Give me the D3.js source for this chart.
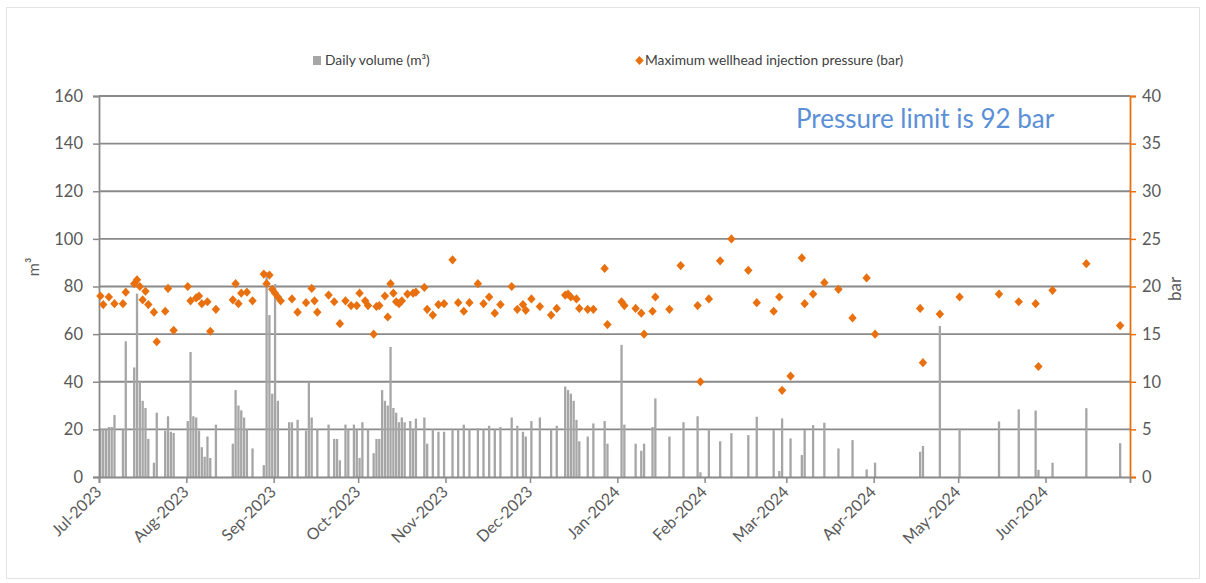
<!DOCTYPE html>
<html>
<head>
<meta charset="utf-8">
<script src="https://cdn.jsdelivr.net/npm/d3@7"></script>
<style>
  html, body { margin: 0; padding: 0; background: #fff; }
  svg { display: block; font-family: Lato, "Open Sans", sans-serif; }
</style>
</head>
<body>
<svg id="chart" width="1206" height="583"></svg>
<script>
// Daily injected volume (m³)
const volumeDates = [
  "2023-07-01","2023-07-02","2023-07-03","2023-07-04","2023-07-05","2023-07-06","2023-07-09","2023-07-10",
  "2023-07-13","2023-07-14","2023-07-15","2023-07-16","2023-07-17","2023-07-18","2023-07-20","2023-07-21",
  "2023-07-24","2023-07-25","2023-07-26","2023-07-27","2023-08-01","2023-08-02","2023-08-03","2023-08-04",
  "2023-08-05","2023-08-06","2023-08-07","2023-08-08","2023-08-09","2023-08-11","2023-08-17","2023-08-18",
  "2023-08-19","2023-08-20","2023-08-21","2023-08-22","2023-08-24","2023-08-28","2023-08-29","2023-08-30",
  "2023-08-31","2023-09-01","2023-09-02","2023-09-06","2023-09-07","2023-09-09","2023-09-12","2023-09-13",
  "2023-09-14","2023-09-16","2023-09-20","2023-09-22","2023-09-23","2023-09-24","2023-09-26","2023-09-27",
  "2023-09-29","2023-09-30","2023-10-01","2023-10-02","2023-10-04","2023-10-06","2023-10-07","2023-10-08",
  "2023-10-09","2023-10-10","2023-10-11","2023-10-12","2023-10-13","2023-10-14","2023-10-15","2023-10-16",
  "2023-10-17","2023-10-19","2023-10-20","2023-10-21","2023-10-24","2023-10-25","2023-10-27","2023-10-29",
  "2023-10-31","2023-11-03","2023-11-05","2023-11-07","2023-11-09","2023-11-12","2023-11-14","2023-11-16",
  "2023-11-18","2023-11-20","2023-11-24","2023-11-26","2023-11-28","2023-11-29","2023-12-01","2023-12-04",
  "2023-12-08","2023-12-10","2023-12-13","2023-12-14","2023-12-15","2023-12-16","2023-12-17","2023-12-18",
  "2023-12-21","2023-12-23","2023-12-27","2023-12-28","2024-01-02","2024-01-03","2024-01-07","2024-01-09",
  "2024-01-10","2024-01-13","2024-01-14","2024-01-19","2024-01-24","2024-01-29","2024-01-30","2024-02-02",
  "2024-02-06","2024-02-10","2024-02-16","2024-02-19","2024-02-25","2024-02-27","2024-02-28","2024-03-02",
  "2024-03-06","2024-03-07","2024-03-10","2024-03-14","2024-03-19","2024-03-24","2024-03-29","2024-04-01",
  "2024-04-17","2024-04-18","2024-04-24","2024-05-01","2024-05-15","2024-05-22","2024-05-28","2024-05-29",
  "2024-06-03","2024-06-15","2024-06-27"
];
const volumeValues = [
  20,20,20,21,21,26,20,57,
  46,77,40,32,29,16,6,27,
  19.5,25.5,19,18.5,23.5,52.5,25.5,25,
  19.5,12.5,8.5,17,8,22,14,36.5,
  30,28,25,20,12,5,86,68,
  35,81,32,23,23,24,19.5,40,
  25,20,22,16,16,7,22,20,
  22,20,8,23,20,10,16,16,
  36.5,32,30,54.6,29,27,23,25,
  23,23.5,20,24.5,25,14,20,19,
  19,20,20,22,20,20.5,20,21.5,
  20,21,25,21.5,19,17,23.5,25,
  20,21.5,38,36.5,35,32,24,15,
  17,22.5,23.5,14,55.5,22,14,11,
  14,21,33,17,23,25.5,2,20,
  15,18.4,17.6,25.3,19.7,2.5,24.6,16.2,
  9.2,19.7,21.8,22.8,12,15.5,3.2,6,
  10.6,13,63.4,20.4,23.3,28.4,27.9,3,
  6,28.9,14.2
];

// Maximum wellhead injection pressure (bar)
const pressureDates = [
  "2023-07-01","2023-07-02","2023-07-04","2023-07-06","2023-07-09","2023-07-10","2023-07-13","2023-07-14",
  "2023-07-15","2023-07-16","2023-07-17","2023-07-18","2023-07-20","2023-07-21","2023-07-24","2023-07-25",
  "2023-07-27","2023-08-01","2023-08-02","2023-08-04","2023-08-05","2023-08-06","2023-08-08","2023-08-09",
  "2023-08-11","2023-08-17","2023-08-18","2023-08-19","2023-08-20","2023-08-22","2023-08-24","2023-08-28",
  "2023-08-29","2023-08-30","2023-08-31","2023-09-01","2023-09-02","2023-09-03","2023-09-07","2023-09-09",
  "2023-09-12","2023-09-14","2023-09-15","2023-09-16","2023-09-20","2023-09-22","2023-09-24","2023-09-26",
  "2023-09-28","2023-09-30","2023-10-01","2023-10-03","2023-10-04","2023-10-06","2023-10-07","2023-10-08",
  "2023-10-10","2023-10-11","2023-10-12","2023-10-13","2023-10-14","2023-10-15","2023-10-16","2023-10-18",
  "2023-10-20","2023-10-21","2023-10-24","2023-10-25","2023-10-27","2023-10-29","2023-10-31","2023-11-03",
  "2023-11-05","2023-11-07","2023-11-09","2023-11-12","2023-11-14","2023-11-16","2023-11-18","2023-11-20",
  "2023-11-24","2023-11-26","2023-11-28","2023-11-29","2023-12-01","2023-12-04","2023-12-08","2023-12-10",
  "2023-12-13","2023-12-14","2023-12-15","2023-12-17","2023-12-18","2023-12-21","2023-12-23","2023-12-27",
  "2023-12-28","2024-01-02","2024-01-03","2024-01-07","2024-01-09","2024-01-10","2024-01-13","2024-01-14",
  "2024-01-19","2024-01-23","2024-01-29","2024-01-30","2024-02-02","2024-02-06","2024-02-10","2024-02-16",
  "2024-02-19","2024-02-25","2024-02-27","2024-02-28","2024-03-02","2024-03-06","2024-03-07","2024-03-10",
  "2024-03-14","2024-03-19","2024-03-24","2024-03-29","2024-04-01","2024-04-17","2024-04-18","2024-04-24",
  "2024-05-01","2024-05-15","2024-05-22","2024-05-28","2024-05-29","2024-06-03","2024-06-15","2024-06-27"
];
const pressureValues = [
  19.0,18.1,18.9,18.2,18.2,19.4,20.3,20.7,
  20.0,18.6,19.5,18.1,17.3,14.2,17.4,19.8,
  15.4,20.0,18.5,18.8,19.0,18.2,18.4,15.3,
  17.6,18.6,20.3,18.2,19.3,19.4,18.5,21.3,
  20.3,21.2,19.7,19.3,18.9,18.5,18.7,17.3,
  18.3,19.8,18.5,17.3,19.1,18.4,16.1,18.5,
  18.0,18.0,19.3,18.5,18.0,15.0,17.9,18.0,
  19.0,16.8,20.3,19.3,18.4,18.2,18.5,19.2,
  19.3,19.4,19.9,17.6,17.0,18.1,18.2,22.8,
  18.3,17.4,18.3,20.3,18.2,18.9,17.2,18.1,
  20.0,17.6,18.1,17.5,18.7,17.9,17.0,17.7,
  19.1,19.2,18.9,18.7,17.7,17.6,17.6,21.9,
  16.0,18.4,18.0,17.7,17.2,15.0,17.4,18.9,
  17.6,22.2,18.0,10.0,18.7,22.7,25.0,21.7,
  18.3,17.4,18.9,9.1,10.6,23.0,18.2,19.2,
  20.4,19.7,16.7,20.9,15.0,17.7,12.0,17.1,
  18.9,19.2,18.4,18.2,11.6,19.6,22.4,15.9
];

const volumeTicks = [0, 20, 40, 60, 80, 100, 120, 140, 160];
const pressureTicks = [0, 5, 10, 15, 20, 25, 30, 35, 40];
const monthTicks = ["2023-07-01","2023-08-01","2023-09-01","2023-10-01","2023-11-01","2023-12-01",
                    "2024-01-01","2024-02-01","2024-03-01","2024-04-01","2024-05-01","2024-06-01"];
const legendLabels = ["Daily volume (m\u00B3)", "Maximum wellhead injection pressure (bar)"];
const noteText = "Pressure limit is 92 bar";

const parse = d3.utcParse("%Y-%m-%d");
const volume = volumeDates.map((d, i) => ({ date: parse(d), value: volumeValues[i] }));
const pressure = pressureDates.map((d, i) => ({ date: parse(d), value: pressureValues[i] }));

const GREY_BAR = "#a6a6a6";
const GRID = "#8a8a8a";
const ORANGE = "#e8700f";
const TEXT = "#595959";

const plot = { left: 99, right: 1130, top: 96, bottom: 477 };

const svg = d3.select("#chart");

// Outer chart frame
svg.append("rect")
  .attr("x", 6.5).attr("y", 7.5).attr("width", 1193).attr("height", 571)
  .attr("fill", "#fff").attr("stroke", "#e3e3e3").attr("stroke-width", 1);

const x = d3.scaleUtc()
  .domain([parse("2023-07-01"), parse("2024-07-01")])
  .range([plot.left, plot.right]);
const dayW = x(parse("2023-07-02")) - x(parse("2023-07-01"));

const yL = d3.scaleLinear().domain([0, 160]).range([plot.bottom, plot.top]);
const yR = d3.scaleLinear().domain([0, 40]).range([plot.bottom, plot.top]);

// Horizontal gridlines
svg.append("g")
  .selectAll("line")
  .data(volumeTicks.filter(t => t > 0))
  .join("line")
  .attr("x1", plot.left).attr("x2", plot.right)
  .attr("y1", d => yL(d)).attr("y2", d => yL(d))
  .attr("stroke", GRID).attr("stroke-width", 1.8);

// Daily volume columns
const barW = dayW * 0.82;
svg.append("g")
  .selectAll("rect")
  .data(volume)
  .join("rect")
  .attr("x", d => x(d.date) + (dayW - barW) / 2)
  .attr("width", barW)
  .attr("y", d => yL(d.value))
  .attr("height", d => yL(0) - yL(d.value))
  .attr("fill", GREY_BAR);

// Left axis
const axL = svg.append("g")
  .attr("transform", `translate(${plot.left},0)`)
  .call(d3.axisLeft(yL).tickValues(volumeTicks).tickSize(6).tickPadding(10).tickFormat(d3.format("d")));
axL.select(".domain").attr("stroke", GRID).attr("stroke-width", 1.8);
axL.selectAll(".tick line").attr("stroke", GRID).attr("stroke-width", 1.5);
axL.selectAll(".tick text").attr("fill", TEXT).style("font-size", "16.5px").style("font-family", "Lato, sans-serif");

// Right axis
const axR = svg.append("g")
  .attr("transform", `translate(${plot.right},0)`)
  .call(d3.axisRight(yR).tickValues(pressureTicks).tickSize(6).tickPadding(6).tickFormat(d3.format("d")));
axR.select(".domain").attr("stroke", ORANGE).attr("stroke-width", 1.8);
axR.selectAll(".tick line").attr("stroke", ORANGE).attr("stroke-width", 1.5);
axR.selectAll(".tick text").attr("fill", TEXT).style("font-size", "16.5px").style("font-family", "Lato, sans-serif");

// Bottom date axis
const axB = svg.append("g")
  .attr("transform", `translate(0,${plot.bottom})`)
  .call(d3.axisBottom(x).tickValues(monthTicks.map(parse)).tickSize(6).tickFormat(d3.utcFormat("%b-%Y")));
axB.select(".domain").attr("stroke", GRID).attr("stroke-width", 1.8);
axB.selectAll(".tick line").attr("stroke", GRID).attr("stroke-width", 1.5);
axB.selectAll(".tick text")
  .attr("fill", TEXT)
  .style("font-size", "16px").style("font-family", "Lato, sans-serif")
  .attr("text-anchor", "end")
  .attr("dy", null).attr("y", null)
  .attr("transform", "translate(3,16) rotate(-45)");

// Pressure markers
const diamond = "M0,-4.6L4.2,0L0,4.6L-4.2,0Z";
svg.append("g")
  .selectAll("path")
  .data(pressure)
  .join("path")
  .attr("d", diamond)
  .attr("transform", d => `translate(${x(d.date) + dayW / 2},${yR(d.value)})`)
  .attr("fill", ORANGE);

// Axis titles
svg.append("text")
  .attr("transform", "translate(39,267) rotate(-90)")
  .attr("text-anchor", "middle").attr("fill", TEXT)
  .style("font-size", "16px")
  .text("m\u00B3");
svg.append("text")
  .attr("transform", "translate(1181,289) rotate(-90)")
  .attr("text-anchor", "middle").attr("fill", TEXT)
  .style("font-size", "17px")
  .text("bar");

// Legend
const lg = svg.append("g").style("font-size", "13.8px").attr("fill", "#404040");
lg.append("rect").attr("x", 313).attr("y", 56).attr("width", 8).attr("height", 9).attr("fill", GREY_BAR);
lg.append("text").attr("x", 325).attr("y", 65).text(legendLabels[0]);
lg.append("path").attr("d", diamond).attr("transform", "translate(639.5,60.5)").attr("fill", ORANGE);
lg.append("text").attr("x", 645).attr("y", 65).text(legendLabels[1]);

// Annotation
svg.append("text")
  .attr("x", 796).attr("y", 128)
  .attr("fill", "#5b8fd6")
  .style("font-size", "26px")
  .text(noteText);
</script>
</body>
</html>
